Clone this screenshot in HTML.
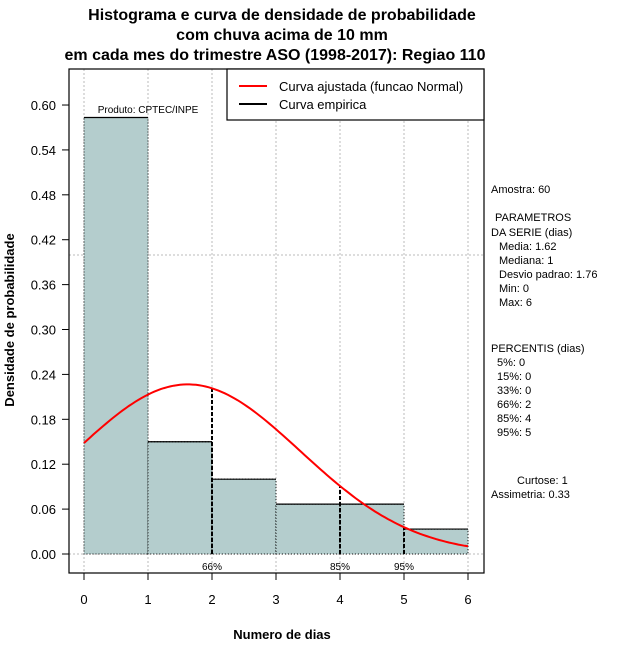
<!DOCTYPE html>
<html><head><meta charset="utf-8"><style>
body{margin:0;background:#fff}
svg{display:block;font-family:"Liberation Sans",sans-serif}
</style></head><body>
<svg width="640" height="660" viewBox="0 0 640 660">
<g id="titles" font-weight="bold" font-size="16" text-anchor="middle" fill="#000">
<text x="282" y="20">Histograma e curva de densidade de probabilidade</text>
<text x="282" y="40">com chuva acima de 10 mm</text>
<text x="275" y="60">em cada mes do trimestre ASO (1998-2017): Regiao 110</text>
</g>
<g id="grid"></g>
<g id="bars"></g>
<g id="pct"></g>
<path id="curve" fill="none" stroke="#ff0000" stroke-width="2"/>
<rect x="69" y="69" width="415" height="504" fill="none" stroke="#000" stroke-width="1.2"/>
<g id="axes" font-size="13"></g>
<text x="148" y="113" font-size="10" text-anchor="middle">Produto: CPTEC/INPE</text>
<g>
<rect x="227" y="69" width="257" height="51" fill="#fff" stroke="#000" stroke-width="1.2"/>
<line x1="239" y1="86" x2="267" y2="86" stroke="#ff0000" stroke-width="2"/>
<text x="279" y="91" font-size="13">Curva ajustada (funcao Normal)</text>
<line x1="239" y1="104" x2="267" y2="104" stroke="#000" stroke-width="2"/>
<text x="279" y="109" font-size="13">Curva empirica</text>
</g>
<text x="282" y="639" font-size="13" font-weight="bold" text-anchor="middle">Numero de dias</text>
<text transform="translate(14,320) rotate(-90)" font-size="13" font-weight="bold" text-anchor="middle">Densidade de probabilidade</text>
<g font-size="11" fill="#000">
<text x="491" y="193">Amostra: 60</text>
<text x="495" y="221">PARAMETROS</text>
<text x="491" y="236">DA SERIE (dias)</text>
<text x="499" y="250">Media: 1.62</text>
<text x="499" y="264">Mediana: 1</text>
<text x="499" y="278">Desvio padrao: 1.76</text>
<text x="499" y="292">Min: 0</text>
<text x="499" y="306">Max: 6</text>
<text x="491" y="352">PERCENTIS (dias)</text>
<text x="497" y="366">5%: 0</text>
<text x="497" y="380">15%: 0</text>
<text x="497" y="394">33%: 0</text>
<text x="497" y="408">66%: 2</text>
<text x="497" y="422">85%: 4</text>
<text x="497" y="436">95%: 5</text>
<text x="517" y="484">Curtose: 1</text>
<text x="491" y="498">Assimetria: 0.33</text>
</g>
</svg>
<script>
const binStarts=[0,1,2,3,4,5];
const densities=[0.5833,0.15,0.10,0.0667,0.0667,0.0333];
const yTicks=[0,0.06,0.12,0.18,0.24,0.30,0.36,0.42,0.48,0.54,0.60];
const yTickLabels=["0.00","0.06","0.12","0.18","0.24","0.30","0.36","0.42","0.48","0.54","0.60"];
const xTicks=[0,1,2,3,4,5,6];
const percentiles=[2,4,5];
const percentileLabels=["66%","85%","95%"];
const mean=1.62, sd=1.76;
const NS="http://www.w3.org/2000/svg";
const X=v=>84+v*64, Y=v=>554-v*748.3;
function mk(t,a,p){const e=document.createElementNS(NS,t);for(const k in a)e.setAttribute(k,a[k]);p.appendChild(e);return e;}
const pdf=x=>Math.exp(-0.5*((x-mean)/sd)**2)/(sd*Math.sqrt(2*Math.PI));
const grid=document.getElementById('grid');
xTicks.forEach(v=>{const l=mk('line',{x1:X(v),x2:X(v),y1:69,y2:573,stroke:'#bbb','stroke-dasharray':'2,2'},grid);

});
[0].forEach(v=>{const l=mk('line',{x1:69,x2:484,y1:Y(v),y2:Y(v),stroke:'#bbb','stroke-dasharray':'2,2'},grid);

});
const hl=mk('line',{x1:69,x2:484,y1:255,y2:255,stroke:'#bbb','stroke-dasharray':'2,2'},grid);


const bars=document.getElementById('bars');
binStarts.forEach((b,i)=>{const x0=X(b),x1=X(b+1),y=Y(densities[i]);
const r=mk('rect',{x:x0,y:y,width:x1-x0,height:Y(0)-y,fill:'#b4cdcd',stroke:'#000','stroke-width':1,'stroke-dasharray':'1,2'},bars);


const t=mk('line',{x1:x0,x2:x1,y1:y,y2:y,stroke:'#000','stroke-width':1.2},bars);

});
const pct=document.getElementById('pct');
percentiles.forEach((p,i)=>{const l=mk('line',{x1:X(p),x2:X(p),y1:Y(0),y2:Y(pdf(p)),stroke:'#000','stroke-width':2,'stroke-dasharray':'4,2'},pct);


const t=mk('text',{x:X(p),y:570,'font-size':10,'text-anchor':'middle'},pct);t.textContent=percentileLabels[i];

});
let d='';for(let i=0;i<=120;i++){const x=i*6/120;d+=(i?'L':'M')+X(x).toFixed(1)+','+Y(pdf(x)).toFixed(1);}
document.getElementById('curve').setAttribute('d',d);
const ax=document.getElementById('axes');
yTicks.forEach((v,i)=>{const l=mk('line',{x1:62,x2:69,y1:Y(v),y2:Y(v),stroke:'#000'},ax);


const t=mk('text',{x:56,y:Y(v)+5,'text-anchor':'end'},ax);t.textContent=yTickLabels[i];

});
xTicks.forEach(v=>{const l=mk('line',{x1:X(v),x2:X(v),y1:573,y2:580,stroke:'#000'},ax);


const t=mk('text',{x:X(v),y:604,'text-anchor':'middle'},ax);t.textContent=v;

});
</script>
</body></html>
